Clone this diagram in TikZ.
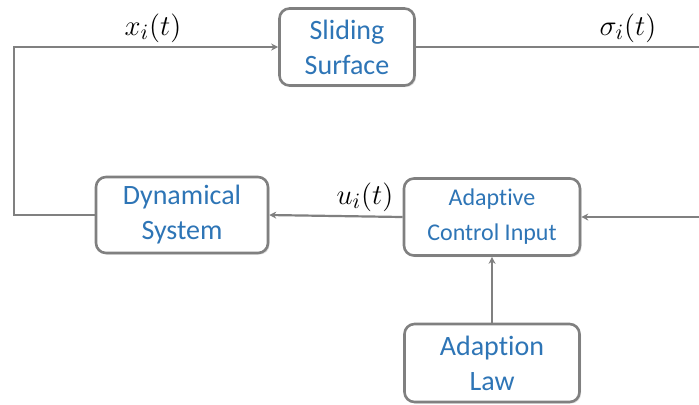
\documentclass[tikz,border=0pt]{standalone}
\usepackage{fontspec}
\setmainfont{Carlito}[Ligatures=NoCommon]
\usepackage{xcolor}
\usetikzlibrary{positioning,arrows.meta,shadows}
\definecolor{txtblue}{RGB}{46,117,182}
\definecolor{lngray}{RGB}{128,128,128}

\begin{document}
\begin{tikzpicture}[x=0.5pt, y=-0.5pt,
  blk/.style={draw=lngray, line width=1.3pt, rounded corners=5pt, fill=white, align=center,
    text=txtblue, font=\fontsize{#1}{17.5}\selectfont, inner sep=1pt,
    drop shadow={opacity=0.25, shadow xshift=0.8pt, shadow yshift=-0.8pt}},
  lbl/.style={font=\fontsize{15}{18}\selectfont},
  arr/.style={draw=lngray, line width=1.1pt, -{Stealth[length=3.5pt, width=3.5pt]}}]
\useasboundingbox (0,0) rectangle (699,404);
\node[blk=14, minimum width=67.5pt, minimum height=38.5pt] (ss) at (347,47) {Sliding\\Surface};
\node[blk=14, minimum width=86pt, minimum height=38pt] (dyn) at (182,215) {Dynamical\\System};
\node[blk=12, minimum width=88pt, minimum height=38.5pt] (aci) at (492,217) {Adaptive\\Control Input};
\node[blk=14, minimum width=87.5pt, minimum height=39pt] (law) at (492,363) {Adaption\\Law};
\coordinate (lft) at (14,47);
\coordinate (rgt) at (702,217);
\draw[arr] (dyn.west) -| (lft) -- (ss.west);
\draw[arr] (ss.east) -| (rgt) -- (aci.east);
\draw[arr] (aci.west) -- (dyn.east);
\draw[arr] (law.north) -- (aci.south);
\node[lbl] (xl) at (153,28) {$x_i(t)$};
\node[lbl] (sl) at (628,28) {$\sigma_i(t)$};
\node[lbl] (ul) at (365,197) {$u_i(t)$};
\end{tikzpicture}
\end{document}
